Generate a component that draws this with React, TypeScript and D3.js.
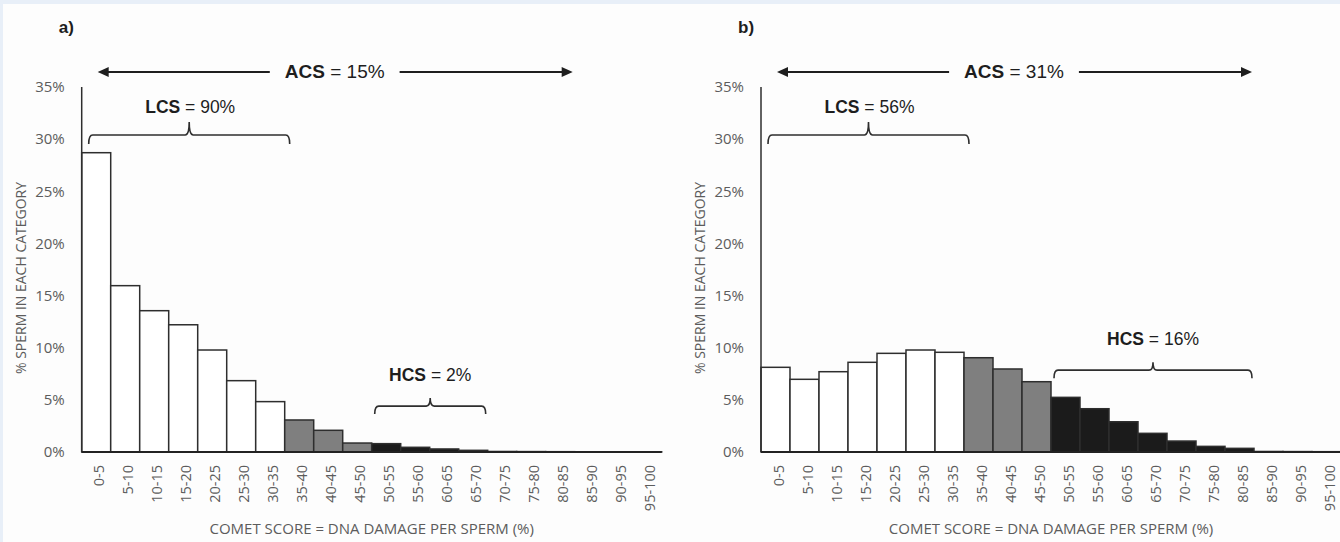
import React, { useEffect, useRef } from "react";
import * as d3 from "d3";

// comet score categories (% DNA damage per sperm)
const categories = [
  "0-5", "5-10", "10-15", "15-20", "20-25", "25-30", "30-35", "35-40", "40-45", "45-50",
  "50-55", "55-60", "60-65", "65-70", "70-75", "75-80", "80-85", "85-90", "90-95", "95-100",
];

// % sperm in each category, panel a) and b)
const valuesA = [
  28.7, 15.95, 13.55, 12.2, 9.78, 6.84, 4.83, 3.07, 2.08, 0.86,
  0.8, 0.45, 0.29, 0.16, 0.05, 0.04, 0.03, 0.02, 0.02, 0.02,
];
const valuesB = [
  8.12, 6.97, 7.7, 8.6, 9.46, 9.78, 9.56, 9.04, 7.96, 6.74,
  5.24, 4.15, 2.9, 1.79, 1.05, 0.54, 0.35, 0.05, 0.04, 0.03,
];

const yTicks = [0, 5, 10, 15, 20, 25, 30, 35];

// damage class of each category: low / medium / high
const damageClass = categories.map((_, i) => (i < 7 ? "low" : i < 10 ? "mid" : "high"));
const classFill: Record<string, string> = { low: "#ffffff", mid: "#7f7f7f", high: "#1b1b1b" };

const panelLabels = ["a)", "b)"];
const acsText = ["15%", "31%"];
const lcsText = ["90%", "56%"];
const hcsText = ["2%", "16%"];
const hcsLastCategory = ["65-70", "80-85"];
const hcsLevel = [4.4, 7.85];
const lcsLevel = 30.4;

const W = 1340;
const H = 542;
const panelLeft = [81.7, 761];
const plotW = 580;
const yTop = 87;
const yBottom = 452;

const tickFont = "'Open Sans', 'DejaVu Sans', sans-serif";
const annFont = "'Liberation Sans', Arial, sans-serif";
const ink = "#2e2e2e";
const grey = "#5c5c5c";

export default function App() {
  const ref = useRef<SVGSVGElement>(null);

  useEffect(() => {
    const svg = d3.select(ref.current);
    svg.selectAll("*").remove();

    svg.append("rect").attr("width", W).attr("height", H).attr("fill", "#e8eff8");
    svg.append("rect").attr("x", 3).attr("y", 4).attr("width", W - 3).attr("height", H - 4).attr("fill", "#fdfdfd");

    const y = d3.scaleLinear().domain([0, 35]).range([yBottom, yTop]);

    function bracket(g: any, x1: number, x2: number, level: number, drop: number, tick: number) {
      const cx = (x1 + x2) / 2;
      const r = 4;
      const p = d3.path();
      p.moveTo(x1, level + drop);
      p.quadraticCurveTo(x1, level, x1 + r, level);
      p.lineTo(cx - r, level);
      p.quadraticCurveTo(cx, level, cx, level - tick);
      p.quadraticCurveTo(cx, level, cx + r, level);
      p.lineTo(x2 - r, level);
      p.quadraticCurveTo(x2, level, x2, level + drop);
      g.append("path").attr("d", p.toString()).attr("fill", "none").attr("stroke", ink).attr("stroke-width", 1.6);
      return cx;
    }

    function label(g: any, cx: number, baseline: number, name: string, value: string, size: number) {
      const t = g
        .append("text")
        .attr("x", cx)
        .attr("y", baseline)
        .attr("text-anchor", "middle")
        .style("font-family", annFont)
        .style("font-size", size + "px")
        .style("white-space", "pre")
        .attr("fill", "#1e1e1e");
      t.append("tspan").attr("font-weight", "bold").text(name);
      t.append("tspan").text(" = " + value);
      return t;
    }

    function drawPanel(p: number, values: number[]) {
      const left = panelLeft[p];
      const g = svg.append("g");
      const x = d3.scaleBand().domain(categories).range([left, left + plotW]).padding(0);

      // panel letter
      g.append("text")
        .attr("x", left - 23)
        .attr("y", 33)
        .style("font-family", annFont)
        .style("font-size", "17px")
        .attr("font-weight", "bold")
        .attr("fill", "#1e1e1e")
        .text(panelLabels[p]);

      // bars
      g.selectAll("rect.bar")
        .data(values)
        .enter()
        .append("rect")
        .attr("class", "bar")
        .attr("x", (_: number, i: number) => x(categories[i])!)
        .attr("y", (d: number) => y(d))
        .attr("width", x.bandwidth())
        .attr("height", (d: number) => y(0) - y(d))
        .attr("fill", (_: number, i: number) => classFill[damageClass[i]])
        .attr("stroke", ink)
        .attr("stroke-width", 1.5);

      // axes
      g.append("line")
        .attr("x1", left).attr("x2", left)
        .attr("y1", y(35)).attr("y2", y(0))
        .attr("stroke", ink).attr("stroke-width", 1.5);
      g.append("line")
        .attr("x1", left).attr("x2", left + plotW)
        .attr("y1", y(0)).attr("y2", y(0))
        .attr("stroke", "#222").attr("stroke-width", 2.2);

      g.selectAll("text.ytick")
        .data(yTicks)
        .enter()
        .append("text")
        .attr("class", "ytick")
        .attr("x", left - 17)
        .attr("y", (d: number) => y(d))
        .attr("dy", "0.35em")
        .attr("text-anchor", "end")
        .style("font-family", tickFont)
        .style("font-size", "15px")
        .attr("fill", grey)
        .text((d: number) => d + "%");

      g.selectAll("text.xtick")
        .data(categories)
        .enter()
        .append("text")
        .attr("class", "xtick")
        .attr("transform", (d: string) => `translate(${x(d)! + x.bandwidth() / 2 + 3},${yBottom + 13}) rotate(-90)`)
        .attr("dy", "0.35em")
        .attr("text-anchor", "end")
        .style("font-family", tickFont)
        .style("font-size", "14.5px")
        .attr("fill", grey)
        .text((d: string) => d);

      g.append("text")
        .attr("x", left + plotW / 2)
        .attr("y", 534)
        .attr("text-anchor", "middle")
        .style("font-family", tickFont)
        .style("font-size", "15px")
        .attr("fill", grey)
        .text("COMET SCORE = DNA DAMAGE PER SPERM (%)");

      g.append("text")
        .attr("transform", `translate(${left - 56},278) rotate(-90)`)
        .attr("text-anchor", "middle")
        .style("font-family", tickFont)
        .style("font-size", "14px")
        .attr("fill", grey)
        .text("% SPERM IN EACH CATEGORY");

      // ACS double arrow
      const ax1 = left + 16;
      const ax2 = x("80-85")! + x.bandwidth() - 2;
      const acx = left + 253;
      const acs = label(g, acx, 78, "ACS", acsText[p], 19);
      const half = (acs.node() as SVGTextElement).getComputedTextLength() / 2;
      const ay = 72;
      const head = 11;
      g.append("line").attr("x1", ax1 + head - 1).attr("x2", acx - half - 15).attr("y1", ay).attr("y2", ay)
        .attr("stroke", "#1e1e1e").attr("stroke-width", 1.8);
      g.append("line").attr("x1", acx + half + 15).attr("x2", ax2 - head + 1).attr("y1", ay).attr("y2", ay)
        .attr("stroke", "#1e1e1e").attr("stroke-width", 1.8);
      g.append("path").attr("d", `M${ax1},${ay} L${ax1 + head},${ay - 5} L${ax1 + head},${ay + 5} Z`).attr("fill", "#1e1e1e");
      g.append("path").attr("d", `M${ax2},${ay} L${ax2 - head},${ay - 5} L${ax2 - head},${ay + 5} Z`).attr("fill", "#1e1e1e");

      // LCS bracket
      const lx1 = x("0-5")! + 7;
      const lx2 = x("30-35")! + x.bandwidth() + 5;
      const lcx = bracket(g, lx1, lx2, y(lcsLevel), 9, 13);
      label(g, lcx + 1, 113, "LCS", lcsText[p], 17.5);

      // HCS bracket
      const hx1 = x("50-55")! + 3;
      const hx2 = x(hcsLastCategory[p])! + x.bandwidth() - 2;
      const hl = y(hcsLevel[p]);
      const hcx = bracket(g, hx1, hx2, hl, 8, 8);
      label(g, hcx, hl - 25, "HCS", hcsText[p], 17.5);
    }

    drawPanel(0, valuesA);
    drawPanel(1, valuesB);
  }, []);

  return (
    <svg
      ref={ref}
      width={W}
      height={H}
      style={{ position: "absolute", left: 0, top: 0, display: "block" }}
    />
  );
}
